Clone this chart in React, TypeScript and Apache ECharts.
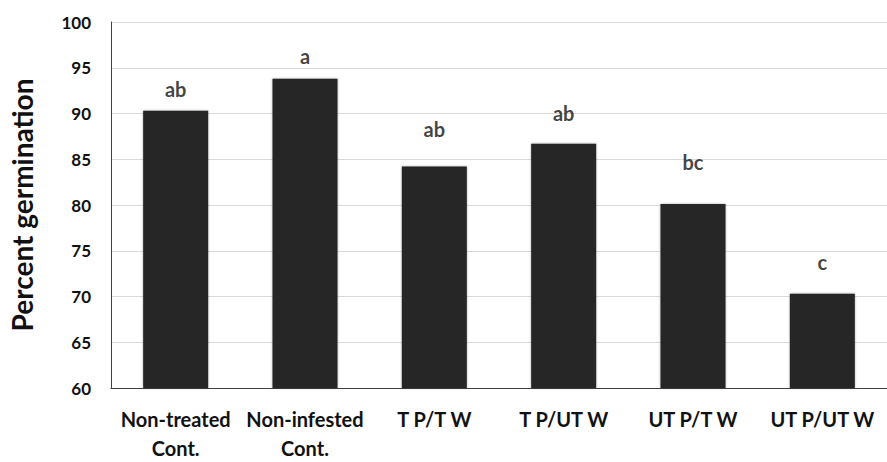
import React, { useEffect, useRef } from "react";
import * as echarts from "echarts";

const categories = [
  "Non-treated\nCont.",
  "Non-infested\nCont.",
  "T P/T W",
  "T P/UT W",
  "UT P/T W",
  "UT P/UT W",
];
const germination = [90.3, 93.8, 84.2, 86.7, 80.1, 70.3];
const letters = ["ab", "a", "ab", "ab", "bc", "c"];
const letterAnchors = [92.0, 95.6, 87.7, 89.4, 84.0, 73.1];

const FONT = "Lato";
const TEXT = "#111111";

export default function App() {
  const ref = useRef<HTMLDivElement>(null);
  useEffect(() => {
    if (!ref.current) return;
    const chart = echarts.init(ref.current, undefined, { renderer: "svg" });
    chart.setOption({
      animation: false,
      backgroundColor: "#ffffff",
      grid: { left: 111, top: 22, width: 786, height: 374, containLabel: false },
      xAxis: {
        type: "category",
        data: categories,
        axisLine: { show: true, lineStyle: { color: "#404040", width: 1 } },
        axisTick: { show: false },
        axisLabel: {
          interval: 0,
          fontFamily: FONT,
          fontWeight: "bold",
          fontSize: 20,
          lineHeight: 29,
          color: TEXT,
          margin: 16,
        },
      },
      yAxis: {
        type: "value",
        min: 60,
        max: 100,
        interval: 5,
        name: "Percent germination",
        nameLocation: "middle",
        nameGap: 75,
        nameTextStyle: { fontFamily: FONT, fontWeight: "bold", fontSize: 28, color: TEXT },
        axisLine: { show: true, lineStyle: { color: "#404040", width: 1 } },
        axisTick: { show: false },
        axisLabel: {
          fontFamily: FONT,
          fontWeight: "bold",
          fontSize: 17,
          color: TEXT,
          margin: 20,
        },
        splitLine: { show: true, lineStyle: { color: "#d9d9d9", width: 1 } },
      },
      series: [
        {
          type: "bar",
          data: germination,
          barWidth: 65,
          itemStyle: {
            color: "#262626",
            shadowColor: "rgba(0,0,0,0.35)",
            shadowBlur: 2,
          },
        },
        {
          type: "scatter",
          data: letterAnchors,
          symbolSize: 0,
          silent: true,
          label: {
            show: true,
            position: "top",
            distance: 0,
            offset: [0, 4],
            formatter: (p: any) => letters[p.dataIndex],
            fontFamily: FONT,
            fontWeight: "bold",
            fontSize: 20,
            color: TEXT,
          },
        },
      ],
    });
    return () => chart.dispose();
  }, []);
  return (
    <div
      ref={ref}
      style={{ position: "fixed", left: 0, top: 0, width: 887, height: 462, background: "#fff" }}
    />
  );
}
